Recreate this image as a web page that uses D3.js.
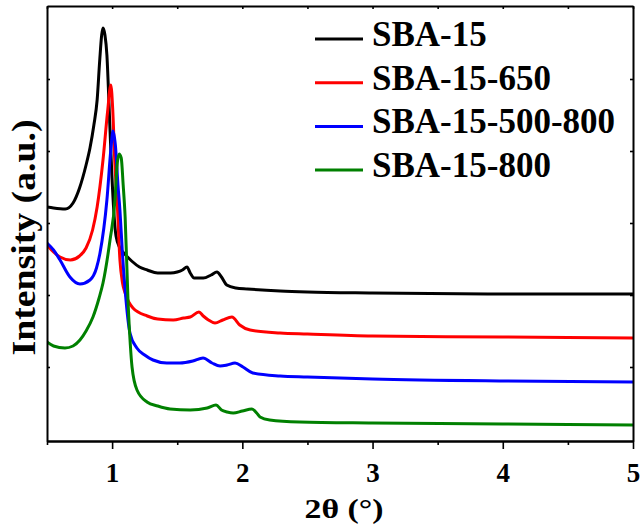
<!DOCTYPE html>
<html>
<head>
<meta charset="utf-8">
<script src="https://cdn.jsdelivr.net/npm/d3@7"></script>
<style>
  html, body { margin: 0; padding: 0; background: #fff; }
  svg { display: block; }
  text { font-family: "Liberation Serif", "Times New Roman", serif; font-weight: bold; fill: #000; }
</style>
</head>
<body>
<svg id="chart" width="641" height="529"></svg>
<script>
// ---- Data (2θ in degrees, intensity in arbitrary units) ----
const seriesNames = ["SBA-15", "SBA-15-650", "SBA-15-500-800", "SBA-15-800"];
const seriesColors = ["#000000", "#ff0000", "#0000ff", "#008000"];

const sba15 = [
  [0.5,234],[0.55,233],[0.64,232],[0.70,238],[0.75,253],[0.80,276],[0.83,293],[0.86,316],
  [0.885,341],[0.905,381],[0.92,406],[0.93,413],[0.945,406],[0.96,386],[0.975,341],[0.99,291],
  [1.01,236],[1.03,205],[1.06,193],[1.09,188],[1.15,180],[1.21,174],[1.27,171],[1.35,168],
  [1.45,168],[1.50,169],[1.54,171],[1.575,174],[1.60,168],[1.63,163],[1.70,163],[1.76,166],
  [1.805,169],[1.84,164],[1.88,156],[1.95,153],[2.04,152],[2.29,150],[2.5,149],[3,148],[4,147],[5,147]
];
const sba15_650 = [
  [0.5,196],[0.55,189],[0.6,184],[0.68,181],[0.75,185],[0.8,193],[0.85,211],[0.885,234],
  [0.93,281],[0.965,329],[0.99,356],[1.005,331],[1.02,281],[1.04,236],[1.06,181],[1.08,158],
  [1.10,148],[1.16,133],[1.27,125],[1.35,122],[1.47,121],[1.55,123],[1.60,124],[1.667,129],
  [1.70,125],[1.74,121],[1.79,118],[1.85,121],[1.92,124],[1.98,116],[2.06,111],[2.29,108],
  [2.5,107],[3,105],[4,104],[5,103]
];
const sba15_500_800 = [
  [0.5,198],[0.55,191],[0.6,181],[0.676,164],[0.753,157],[0.83,161],[0.88,173],[0.907,188],
  [0.96,241],[0.99,291],[1.007,310],[1.025,296],[1.045,256],[1.06,231],[1.08,186],[1.10,151],
  [1.137,108],[1.19,93],[1.25,86],[1.314,81],[1.42,78],[1.52,78],[1.62,80],[1.698,83],
  [1.767,78],[1.829,75],[1.883,76],[1.944,78],[2.005,74],[2.08,68],[2.29,65],[2.5,64],
  [3,62],[4,60],[5,59]
];
const sba15_800 = [
  [0.5,99],[0.55,95],[0.638,93],[0.7,95],[0.753,101],[0.8,110],[0.853,124],[0.9,143],
  [0.93,158],[0.984,201],[1.022,241],[1.037,274],[1.053,287],[1.07,283],[1.085,256],[1.1,224],
  [1.122,141],[1.14,96],[1.153,74],[1.191,51],[1.268,39],[1.35,35],[1.445,32],[1.6,31],
  [1.73,33],[1.798,36],[1.84,31],[1.883,29],[1.93,28],[2.0,30],[2.074,32],[2.11,28],
  [2.136,24],[2.21,21],[2.44,19],[3,18],[4,17],[5,16]
];
const seriesData = [sba15, sba15_650, sba15_500_800, sba15_800];

const xMajorTicks = [1, 2, 3, 4, 5];
const xMinorTicks = [0.5, 1.5, 2.5, 3.5, 4.5];
const yTicks = [74, 146, 218, 290, 362];
const xDomain = [0.5, 5];
const yDomain = [0, 435];
const xTitle = "2θ (°)";
const yTitle = "Intensity (a.u.)";

// ---- Layout ----
const L = 47, R = 633, T = 6, B = 441;
const svg = d3.select("#chart");
const x = d3.scaleLinear().domain(xDomain).range([L, R]);
const y = d3.scaleLinear().domain(yDomain).range([B, T]);

svg.append("defs").append("clipPath").attr("id", "clip")
  .append("rect").attr("x", L).attr("y", T).attr("width", R - L).attr("height", B - T);

// curves
const line = d3.line().x(d => x(d[0])).y(d => y(d[1])).curve(d3.curveMonotoneX);
const g = svg.append("g").attr("clip-path", "url(#clip)");
seriesData.forEach((s, i) => {
  g.append("path").datum(s).attr("d", line)
    .attr("fill", "none").attr("stroke", seriesColors[i])
    .attr("stroke-width", 3).attr("stroke-linejoin", "round").attr("stroke-linecap", "round");
});

function styleAxis(sel) {
  sel.select(".domain").attr("stroke", "#000").attr("stroke-width", 2);
  sel.selectAll(".tick line").attr("stroke", "#000").attr("stroke-width", 1.6);
}

// bottom major
const axBottom = svg.append("g").attr("transform", `translate(0,${B})`)
  .call(d3.axisBottom(x).tickValues(xMajorTicks).tickSize(8).tickPadding(14).tickSizeOuter(0).tickFormat(d3.format("d")));
styleAxis(axBottom);
axBottom.selectAll(".tick text").style("font-size", "27px").style("font-family", "'Liberation Serif', serif").style("font-weight", "bold");
// bottom minor
const axBottomMinor = svg.append("g").attr("transform", `translate(0,${B})`)
  .call(d3.axisBottom(x).tickValues(xMinorTicks).tickSize(4).tickSizeOuter(0).tickFormat(""));
styleAxis(axBottomMinor);
// top (inward)
const axTop = svg.append("g").attr("transform", `translate(0,${T})`)
  .call(d3.axisBottom(x).tickValues(xMajorTicks.concat(xMinorTicks)).tickSize(3).tickSizeOuter(0).tickFormat(""));
styleAxis(axTop);
// left (inward)
const axLeft = svg.append("g").attr("transform", `translate(${L},0)`)
  .call(d3.axisRight(y).tickValues(yTicks).tickSize(3).tickSizeOuter(0).tickFormat(""));
styleAxis(axLeft);
// right (inward)
const axRight = svg.append("g").attr("transform", `translate(${R},0)`)
  .call(d3.axisLeft(y).tickValues(yTicks).tickSize(3).tickSizeOuter(0).tickFormat(""));
styleAxis(axRight);

// axis titles
svg.append("text").attr("x", 344).attr("y", 518).attr("text-anchor", "middle")
  .style("font-size", "28px").attr("textLength", 79).attr("lengthAdjust", "spacingAndGlyphs").text(xTitle);
svg.append("text").attr("transform", "translate(35,237.5) rotate(-90)").attr("text-anchor", "middle")
  .style("font-size", "33px").attr("textLength", 236).attr("lengthAdjust", "spacingAndGlyphs").text(yTitle);

// legend
const legend = svg.append("g");
seriesNames.forEach((name, i) => {
  const by = 46 + i * 43.7;
  legend.append("line").attr("x1", 315).attr("x2", 363).attr("y1", by - 7).attr("y2", by - 7)
    .attr("stroke", seriesColors[i]).attr("stroke-width", 3);
  legend.append("text").attr("x", 372).attr("y", by).style("font-size", "35px").text(name);
});
</script>
</body>
</html>
